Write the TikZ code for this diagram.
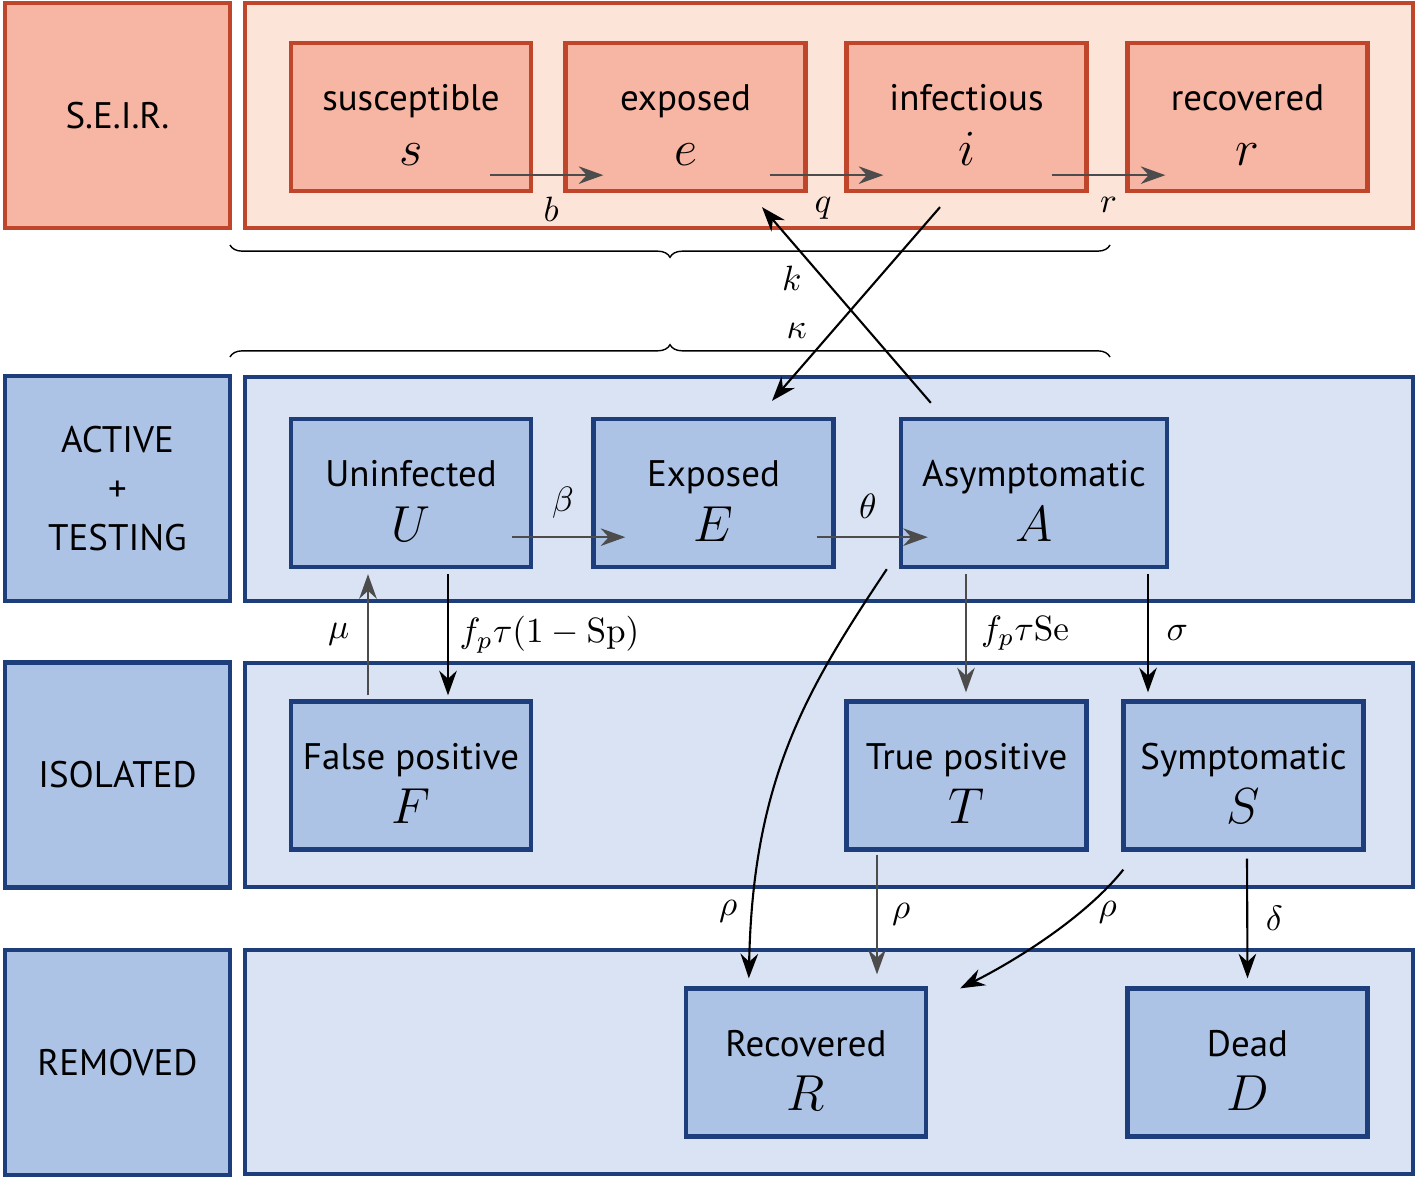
\documentclass[tikz,border=0pt]{standalone}
\usepackage[no-math]{fontspec}
\setmainfont{PT Sans}
\usetikzlibrary{arrows.meta,decorations.pathreplacing}

\definecolor{seirline}{HTML}{C0462B}
\definecolor{seirfill}{HTML}{F7B5A3}
\definecolor{seirback}{HTML}{FDE4D9}
\definecolor{modline}{HTML}{1E3D7B}
\definecolor{modfill}{HTML}{ADC3E6}
\definecolor{modback}{HTML}{D9E3F3}

\newcommand{\comp}[2]{\rule{0pt}{12pt}#1\\[1.5pt]{\Large $#2$}}

\tikzset{
    seirbox/.style={draw=seirline, fill=seirfill, line width=1.2pt, align=center, inner sep=0pt,
        minimum width=2.4cm, minimum height=1.48cm, font=\fontsize{10.5}{14}\selectfont},
    modbox/.style={seirbox, draw=modline, fill=modfill},
    rowlabel/.style={minimum width=2.25cm, minimum height=2.25cm},
    flow/.style={-{Stealth[length=7pt,width=5pt]}, line width=0.6pt},
    dimflow/.style={flow, draw=black!70},
    rate/.style={inner sep=1pt, font=\normalsize}
}

\begin{document}
\begin{tikzpicture}[x=0.01cm, y=-0.01cm]
    \useasboundingbox (0,0) rectangle (1418,1179);

    \draw[seirline, fill=seirback, line width=1.2pt] (245,3) rectangle (1413,228);
    \foreach \top in {377,663,950}
        \draw[modline, fill=modback, line width=1.2pt] (245,\top) rectangle (1413,\top+224);

    \node[seirbox, rowlabel] (seir) at (117.5,115.5) {S.E.I.R.};
    \node[modbox, rowlabel] (active) at (117.5,488.5) {ACTIVE\\+\\TESTING};
    \node[modbox, rowlabel] (isolated) at (117.5,775) {ISOLATED};
    \node[modbox, rowlabel] (removed) at (117.5,1062.5) {REMOVED};

    \node[seirbox] (s) at (411,117) {\comp{susceptible}{s}};
    \node[seirbox] (e) at (685.5,117) {\comp{exposed}{e}};
    \node[seirbox] (i) at (966.5,117) {\comp{infectious}{i}};
    \node[seirbox] (r) at (1247.5,117) {\comp{recovered}{r}};

    \node[modbox] (U) at (411,493) {\comp{Uninfected}{U}};
    \node[modbox] (E) at (713.5,493) {\comp{Exposed}{E}};
    \node[modbox, minimum width=2.66cm] (A) at (1034,493) {\comp{Asymptomatic}{A}};

    \node[modbox] (F) at (411,775.5) {\comp{False positive}{F}};
    \node[modbox] (T) at (966.5,775.5) {\comp{True positive}{T}};
    \node[modbox] (S) at (1243.5,775.5) {\comp{Symptomatic}{S}};

    \node[modbox] (R) at (806,1062.5) {\comp{Recovered}{R}};
    \node[modbox] (D) at (1247.5,1062.5) {\comp{Dead}{D}};

    \draw[dimflow] ([shift={(-43,-18)}]s.south east) -- ([shift={(40,-18)}]e.south west) node[rate, pos=.54, below=5pt] {$b$};
    \draw[dimflow] ([shift={(-38,-18)}]e.south east) -- ([shift={(39,-18)}]i.south west) node[rate, pos=.47, below=5pt] {$q$};
    \draw[dimflow] ([shift={(-37,-18)}]i.south east) -- ([shift={(40,-18)}]r.south west) node[rate, pos=.5, below=5pt] {$r$};

    \draw[decorate, decoration={brace, amplitude=3.5pt}] (1110,245) -- (230,245);
    \draw[decorate, decoration={brace, amplitude=3.5pt}] (230,357) -- (1110,357);

    \draw[flow] ([shift={(32,-14)}]A.north west) -- ([shift={(76.5,14)}]e.south) node[rate, pos=.635, left=5pt] {$k$};
    \draw[flow] ([shift={(-26.5,14)}]i.south) -- ([shift={(58.5,-16)}]E.north) node[rate, pos=.64, left=6pt] {$\kappa$};

    \draw[dimflow] ([shift={(-21,-32)}]U.south east) -- ([shift={(34,-32)}]E.south west) node[rate, pos=.45, above=4pt] {$\beta$};
    \draw[dimflow] ([shift={(-19,-32)}]E.south east) -- ([shift={(29,-32)}]A.south west) node[rate, pos=.46, above=4pt] {$\theta$};

    \draw[dimflow] ([shift={(-43,-4)}]F.north) -- ([shift={(-43,5)}]U.south) node[rate, midway, left=4pt] {$\mu$};
    \draw[flow] ([shift={(37,5)}]U.south) -- ([shift={(37,-4)}]F.north) node[rate, midway, right=2pt] {$f_p\tau(1-\mathrm{Sp})$};
    \draw[dimflow] ([shift={(-68,5)}]A.south) -- ([shift={(-0.5,-7)}]T.north) node[rate, midway, right=3pt] {$f_p\tau\mathrm{Se}$};
    \draw[flow] ([shift={(114,5)}]A.south) -- ([shift={(-95.5,-7)}]S.north) node[rate, midway, right=4pt] {$\sigma$};

    \draw[flow] ([shift={(-12,0)}]A.south west) .. controls +(-80,120) and +(4,-200) .. ([shift={(65,-8)}]R.north west) node[rate, pos=.88, left=3pt] {$\rho$};
    \draw[dimflow] ([shift={(-89.5,3)}]T.south) -- ([shift={(71,-12)}]R.north) node[rate, midway, right=3pt] {$\rho$};
    \draw[flow] ([shift={(2,18)}]S.south west) .. controls +(-40,50) and +(50,-25) .. ([shift={(32,2)}]R.north east) node[rate, pos=.3, right=4pt] {$\rho$};
    \draw[flow] ([shift={(3.5,7)}]S.south) -- ([shift={(0,-8)}]D.north) node[rate, midway, right=4pt] {$\delta$};
\end{tikzpicture}
\end{document}
